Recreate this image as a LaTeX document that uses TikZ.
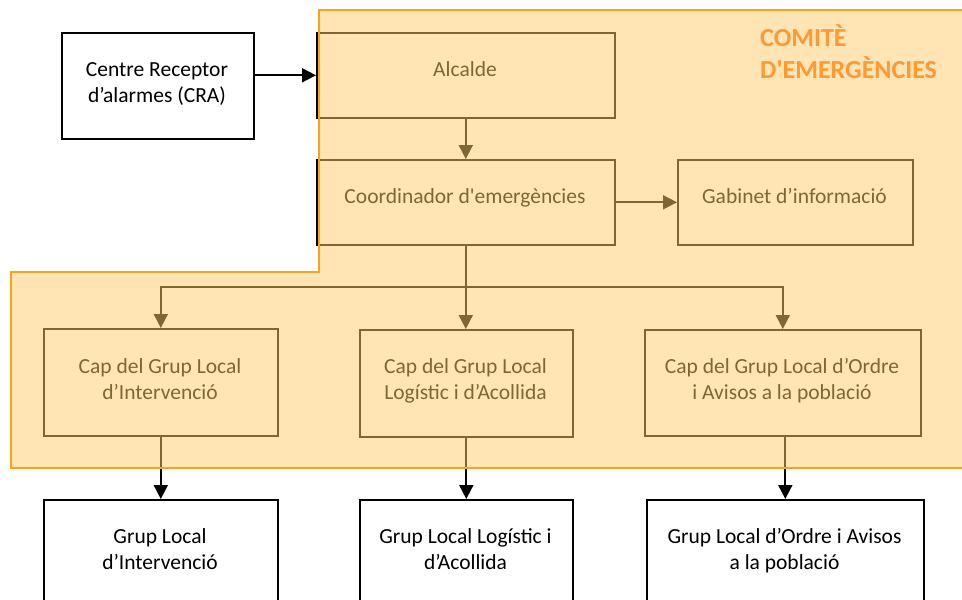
\documentclass[tikz,border=0pt]{standalone}
\usepackage{fontspec}
\setmainfont{Carlito}[Ligatures=TeXOff]
\usetikzlibrary{arrows.meta}
\definecolor{ovl}{RGB}{255,202,106}
\definecolor{rimc}{RGB}{255,160,25}
\definecolor{titc}{RGB}{255,153,51}
\tikzset{
  boxnode/.style={draw=black, line width=1.6pt, rectangle, inner sep=0pt, anchor=north west},
  txt/.style={anchor=base, align=center, font=\fontsize{21.5}{26}\selectfont, text=black, inner sep=0pt},
  conn/.style={draw=black, line width=1.8pt, -{Triangle[length=14pt,width=14pt]}},
}
\begin{document}
\begin{tikzpicture}[x=1pt,y=-1pt]
\useasboundingbox (0,0) rectangle (962,600);
\clip (0,0) rectangle (962,600);
% boxes
\node[boxnode, minimum width=192pt, minimum height=106pt] (cra) at (61,32) {};
\node[boxnode, minimum width=298pt, minimum height=85pt] (alc) at (316,32) {};
\node[boxnode, minimum width=298pt, minimum height=85pt] (coord) at (316,159) {};
\node[boxnode, minimum width=235pt, minimum height=85pt] (gab) at (677,159) {};
\node[boxnode, minimum width=234pt, minimum height=107pt] (cap1) at (43,328) {};
\node[boxnode, minimum width=213pt, minimum height=107pt] (cap2) at (359,329) {};
\node[boxnode, minimum width=276pt, minimum height=106pt] (cap3) at (644,329) {};
\node[boxnode, minimum width=234pt, minimum height=120pt] (bot1) at (43,499) {};
\node[boxnode, minimum width=213pt, minimum height=120pt] (bot2) at (359,499) {};
\node[boxnode, minimum width=277pt, minimum height=120pt] (bot3) at (646,499) {};
% texts (base = baseline of the last line)
\node[txt] (tcra) at (157,102) {Centre Receptor\\d’alarmes (CRA)};
\node[txt] (talc) at (465,76) {Alcalde};
\node[txt] (tcoord) at (465,203) {Coordinador d'emergències};
\node[txt] (tgab) at (794.5,203) {Gabinet d’informació};
\node[txt] (tcap1) at (160,399) {Cap del Grup Local\\d’Intervenció};
\node[txt] (tcap2) at (465.5,399) {Cap del Grup Local\\Logístic i d’Acollida};
\node[txt] (tcap3) at (782,399) {Cap del Grup Local d’Ordre\\i Avisos a la població};
\node[txt] (tbot1) at (160,569) {Grup Local\\d’Intervenció};
\node[txt] (tbot2) at (465.5,569) {Grup Local Logístic i\\d’Acollida};
\node[txt] (tbot3) at (784.5,569) {Grup Local d’Ordre i Avisos\\a la població};
% connectors
\draw[conn] (cra.east |- alc.west) -- (alc.west);
\draw[conn] (alc.south) -- (coord.north);
\draw[conn] (coord.east) -- (gab.west);
\coordinate (bus) at (465,287);
\draw[conn] (coord.south) -- (coord.south |- cap2.north);
\draw[conn] (bus) -| (cap1.north);
\draw[conn] (bus) -| (cap3.north);
\draw[conn] (cap1.south) -- (bot1.north);
\draw[conn] (cap2.south) -- (bot2.north);
\draw[conn] (cap3.south -| bot3.north) -- (bot3.north);
% committee overlay
\path[fill=ovl, fill opacity=0.5] (319,10) -- (975,10) -- (975,468) -- (11,468) -- (11,272) -- (319,272) -- cycle;
\draw[rimc, line width=1.5pt] (319,10) -- (975,10) -- (975,468) -- (11,468) -- (11,272) -- (319,272) -- cycle;
\node[anchor=base west, align=left, font=\bfseries\fontsize{26}{32}\selectfont, text=titc, inner sep=0pt] (title) at (760,78) {COMITÈ\\D'EMERGÈNCIES};
\end{tikzpicture}
\end{document}
